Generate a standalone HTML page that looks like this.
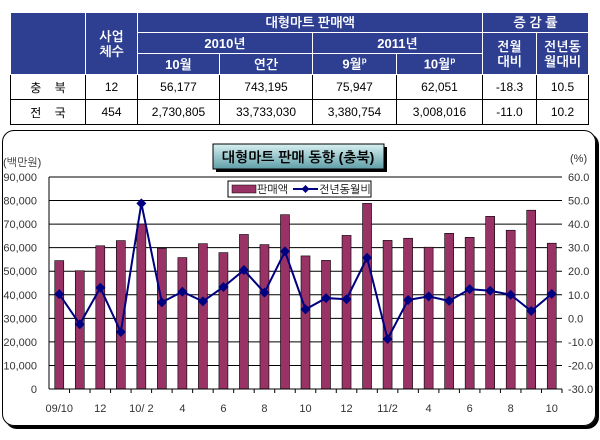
<!DOCTYPE html>
<html><head><meta charset="utf-8">
<style>
body{margin:0;width:600px;height:440px;background:#fff;position:relative;overflow:hidden;font-family:"Liberation Sans","Noto Sans CJK KR",sans-serif;}
table{position:absolute;left:10px;top:12px;border-collapse:collapse;font-size:12px;}
td{border:1px solid #000;text-align:center;padding:0;}
td.h{background:#2E3F92;color:#fff;font-weight:bold;border-color:#fff;font-size:13px;font-family:"Liberation Sans","NanumGothic",sans-serif;}
sup{font-size:8px}
</style></head><body>
<table>
<colgroup><col style="width:75px"><col style="width:52px"><col style="width:82px"><col style="width:93px"><col style="width:84px"><col style="width:86px"><col style="width:54px"><col style="width:52px"></colgroup>
<tr style="height:20px"><td class="h" rowspan="3"></td><td class="h" rowspan="3">사업<br>체수</td><td class="h" colspan="4">대형마트 판매액</td><td class="h" colspan="2">증 감 률</td></tr>
<tr style="height:21px"><td class="h" colspan="2">2010년</td><td class="h" colspan="2">2011년</td><td class="h" rowspan="2">전월<br>대비</td><td class="h" rowspan="2">전년동<br>월대비</td></tr>
<tr style="height:21px"><td class="h">10월</td><td class="h">연간</td><td class="h">9월<sup>p</sup></td><td class="h">10월<sup>p</sup></td></tr>
<tr style="height:25px"><td>충 &nbsp;&nbsp;&nbsp;북</td><td>12</td><td>56,177</td><td>743,195</td><td>75,947</td><td>62,051</td><td>-18.3</td><td>10.5</td></tr>
<tr style="height:25px"><td>전 &nbsp;&nbsp;&nbsp;국</td><td>454</td><td>2,730,805</td><td>33,733,030</td><td>3,380,754</td><td>3,008,016</td><td>-11.0</td><td>10.2</td></tr>
</table>

<div style="position:absolute;left:2px;top:130px;width:592px;height:294px;border:1px solid #000;border-radius:12px;box-shadow:3px 3px 0 #000;"></div>

<svg id="chart" width="600" height="440" style="position:absolute;left:0;top:0" font-family="Liberation Sans, NanumGothic, sans-serif">
<defs><linearGradient id="tg" x1="0" y1="0" x2="0" y2="1"><stop offset="0" stop-color="#d8f0f0"/><stop offset="1" stop-color="#5f9ea8"/></linearGradient></defs>
<g id="grid"></g><g id="bars"></g><g id="line"></g><g id="axes"></g>
<rect x="216" y="147" width="171" height="25" fill="#000"/>
<rect x="213" y="144" width="171" height="25" fill="url(#tg)" stroke="#000"/>
<text x="298" y="162" text-anchor="middle" font-size="14" font-weight="bold">대형마트 판매 동향 (충북)</text>
<rect x="228" y="181" width="143" height="16" fill="#fff" stroke="#000"/>
<rect x="232" y="185" width="24" height="8" fill="#993366" stroke="#000" stroke-width="0.5"/>
<text x="257" y="193" font-size="11">판매액</text>
<line x1="293" y1="189" x2="318" y2="189" stroke="#000080" stroke-width="2"/>
<path d="M305.5 185 L309.5 189 L305.5 193 L301.5 189Z" fill="#000080"/>
<text x="319" y="193" font-size="11">전년동월비</text>
<text x="3" y="166" font-size="11" fill="#333">(백만원)</text>
<text x="570" y="162" font-size="11" fill="#333">(%)</text>
</svg>
<script>
const sales=[54500,50200,60800,63000,70000,59700,55800,61700,57900,65600,61300,74000,56500,54600,65200,78800,63100,64000,60200,66100,64400,73300,67400,75900,61900];
const yoy=[10.3,-2.5,13,-5.8,48.8,6.8,11.3,7.2,13.3,20.5,10.9,28.4,3.8,8.6,8.1,25.7,-8.8,7.8,9.3,7.4,12.4,11.7,10,3.1,10.4];
const xLabels=["09/10","","12","","10/ 2","","4","","6","","8","","10","","12","","11/2","","4","","6","","8","","10"];
const leftTicks=[0,10000,20000,30000,40000,50000,60000,70000,80000,90000];
const rightTicks=[-30,-20,-10,0,10,20,30,40,50,60];
const X0=49,X1=562,Y0=389,Y1=177;
const bw=(X1-X0)/sales.length;
const xc=i=>X0+bw*(i+0.5);
const yL=v=>Y0-(v/90000)*(Y0-Y1);
const yR=v=>Y0-((v+30)/90)*(Y0-Y1);
const NS="http://www.w3.org/2000/svg";
function mk(tag,parent,attrs){const e=document.createElementNS(NS,tag);for(const k in attrs)e.setAttribute(k,attrs[k]);document.getElementById(parent).appendChild(e);return e;}
leftTicks.forEach((t,i)=>{
 if(i>0){const g=mk('line','grid',{x1:X0,x2:X1,y1:yL(t),y2:yL(t),stroke:'#000','stroke-width':1});
 
 }
 const tx=mk('text','axes',{x:37,y:yL(t)+4,'text-anchor':'end','font-size':11,fill:'#333'});tx.textContent=t.toLocaleString('en-US');
 
 
});
rightTicks.forEach(t=>{const tx=mk('text','axes',{x:568,y:yR(t)+4,'font-size':11,fill:'#333'});tx.textContent=t.toFixed(1);
 
 });
mk('line','axes',{x1:X0,x2:X0,y1:Y1,y2:Y0,stroke:'#000'});
mk('line','axes',{x1:X0,x2:X1,y1:Y0,y2:Y0,stroke:'#000'});
sales.forEach((v,i)=>{const b=mk('rect','bars',{x:xc(i)-4.5,y:yL(v),width:9,height:Y0-yL(v),fill:'#993366',stroke:'#000','stroke-width':0.6});
 
 
 mk('line','axes',{x1:X0+bw*(i+1),x2:X0+bw*(i+1),y1:Y0,y2:Y0+4,stroke:'#000'});
 if(xLabels[i]){const tx=mk('text','axes',{x:xc(i),y:412,'text-anchor':'middle','font-size':11,fill:'#333'});tx.textContent=xLabels[i];
 
 }
});
const pl=mk('polyline','line',{points:yoy.map((v,i)=>xc(i)+','+yR(v)).join(' '),fill:'none',stroke:'#000080','stroke-width':2});


yoy.forEach((v,i)=>{const x=xc(i),y=yR(v);const p=mk('path','line',{d:`M${x} ${y-5}L${x+5} ${y}L${x} ${y+5}L${x-5} ${y}Z`,fill:'#000080'});
 
 });
</script>
</body></html>
